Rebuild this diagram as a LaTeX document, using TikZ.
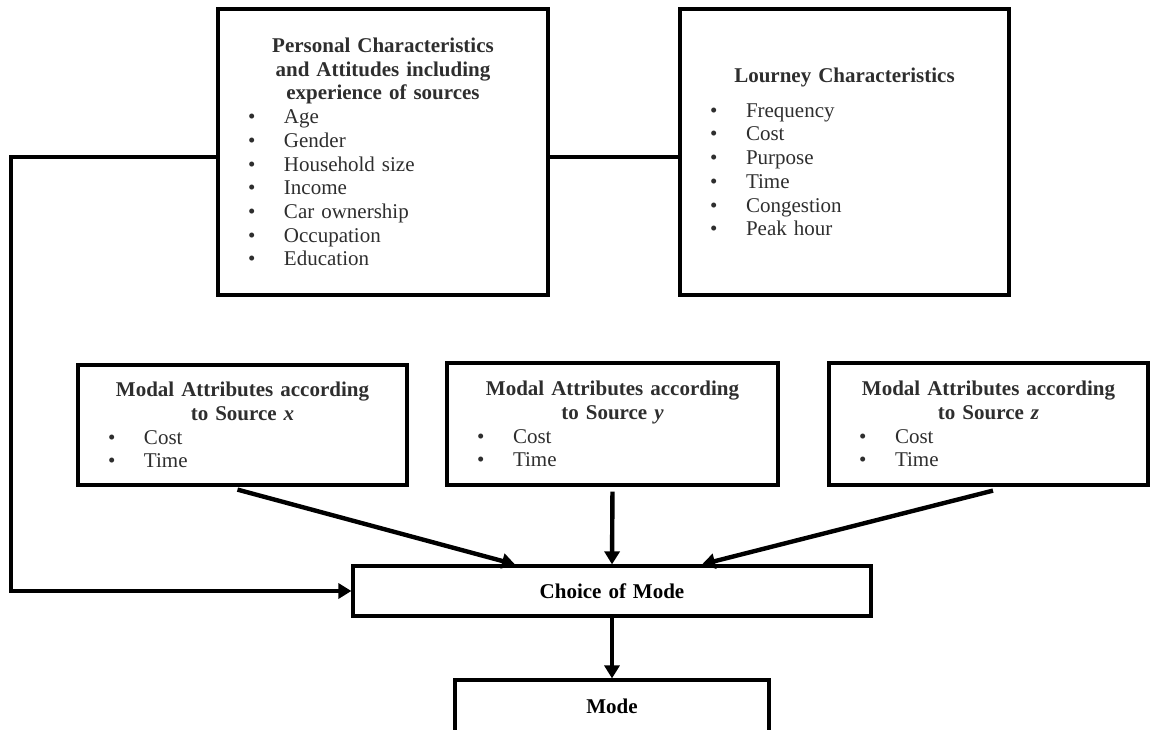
\documentclass[tikz,border=0pt]{standalone}
\usepackage{fontspec}
\setmainfont{Liberation Serif}
\usepackage{xcolor}
\usepackage{tikz}
\usetikzlibrary{shapes, arrows.meta, positioning}
\usetikzlibrary{calc}

\newcommand{\itm}[1]{\par\noindent\makebox[18pt][l]{\textbullet}#1}

\tikzset{
    box/.style={draw, line width=1.6pt, inner xsep=15pt, inner ysep=0pt, align=left,
        text=black!82, font=\fontsize{10.5pt}{11.85pt}\selectfont},
    conn/.style={line width=2.2pt},
    arr/.style={conn, -{Triangle[length=6.5pt, width=7.5pt]}},
}

\begin{document}
\begin{tikzpicture}[x=0.5pt, y=-0.5pt] % one unit is one pixel of the slide
        \useasboundingbox (0,0) rectangle (1151,729);

        % Top row of boxes
        \node[box, text width=135pt, minimum height=143pt] (personal) at (383,152)
            {{\centering\bfseries Personal Characteristics\\ and Attitudes including\\ experience of sources\par}
             \itm{Age}\itm{Gender}\itm{Household size}\itm{Income}\itm{Car ownership}\itm{Occupation}\itm{Education}};
        \node[box, text width=134.5pt, minimum height=143pt] (journey) at (844.5,152)
            {{\centering\bfseries Lourney Characteristics\par}\vspace{5.5pt}
             \itm{Frequency}\itm{Cost}\itm{Purpose}\itm{Time}\itm{Congestion}\itm{Peak hour}};

        % Modal attributes by source
        \node[box, text width=134.5pt, minimum height=60pt] (modalx) at (242.5,425)
            {{\centering\bfseries Modal Attributes according\\ to Source \textit{x}\par}\itm{Cost}\itm{Time}};
        \node[box, text width=135.5pt, minimum height=61pt] (modaly) at (612.5,424)
            {{\centering\bfseries Modal Attributes according\\ to Source \textit{y}\par}\itm{Cost}\itm{Time}};
        \node[box, text width=129.5pt, minimum height=61pt] (modalz) at (988.5,424)
            {{\centering\bfseries Modal Attributes according\\ to Source \textit{z}\par}\itm{Cost}\itm{Time}};

        % Choice and outcome
        \node[box, text=black, align=center, text width=229pt, minimum height=25pt] (choice) at (612,591)
            {\bfseries Choice of Mode};
        \node[box, text=black, align=center, text width=127pt, minimum height=26pt] (mode) at (612,706)
            {\bfseries Mode};

        % Corners of the feedback line
        \coordinate (bend) at (11,157);
        \coordinate (foot) at (bend |- choice.west);

        % Connectors
        \draw[conn] (personal.east |- bend) -- (journey.west |- bend);
        \draw[arr] (personal.west |- bend) -- (bend) -- (foot) -- (choice.west);
        \draw[arr] ($(modalx.south)+(-5,3)$) -- ($(choice.north)+(-97,0)$);
        \draw[arr, shorten <=2.5pt] (modaly.south) -- (choice.north);
        \draw[arr] ($(modalz.south)+(4.5,4)$) -- ($(choice.north)+(90,0)$);
        \draw[arr] (choice.south) -- (mode.north);
    \end{tikzpicture}
\end{document}
